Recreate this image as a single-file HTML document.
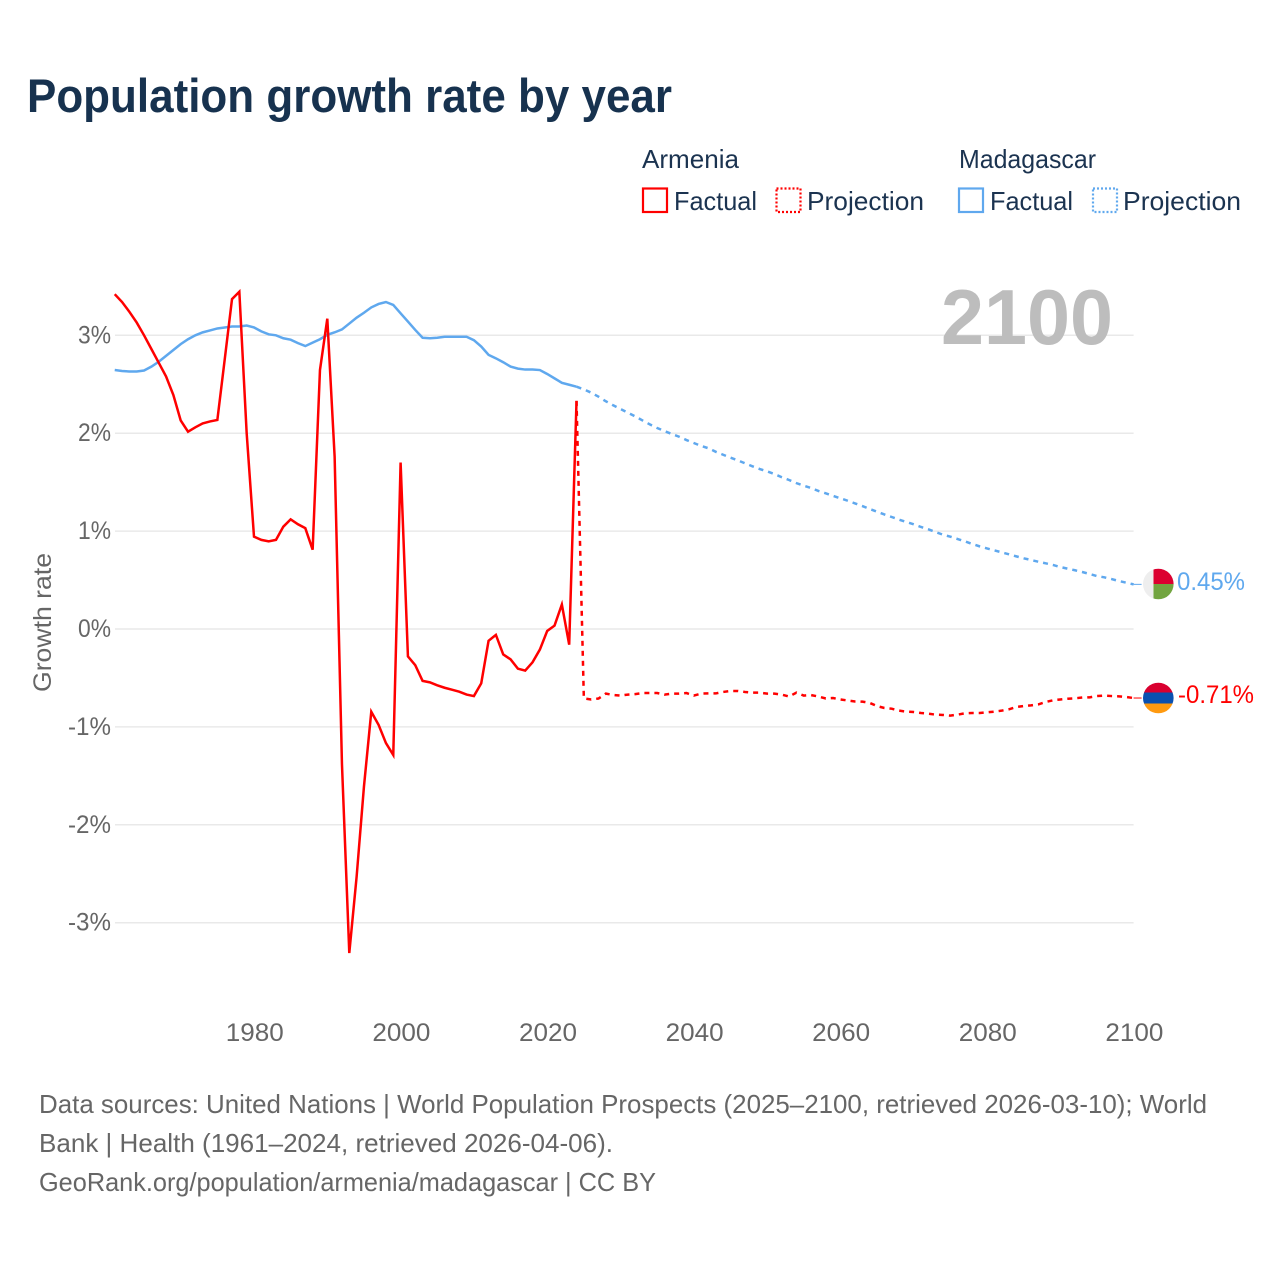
<!DOCTYPE html>
<html lang="en">
<head>
<meta charset="utf-8">
<title>Population growth rate by year</title>
<style>
html,body{margin:0;padding:0;background:#fff;}
svg{display:block;font-family:"Liberation Sans",sans-serif;}
</style>
</head>
<body>
<svg id="chart" xmlns="http://www.w3.org/2000/svg" width="1280" height="1280" viewBox="0 0 1280 1280">
  <rect x="0" y="0" width="1280" height="1280" fill="#ffffff"/>
  <text x="27" y="112" font-size="47" font-weight="700" fill="#17324f" textLength="645" lengthAdjust="spacingAndGlyphs">Population growth rate by year</text>

  <g font-size="26" fill="#1b3350">
    <text x="642" y="168" textLength="97" lengthAdjust="spacingAndGlyphs">Armenia</text>
    <g>
      <rect x="643" y="188.5" width="24" height="23.5" fill="none" stroke="#ff0000" stroke-width="2.2"/>
      <text x="674" y="210" textLength="83" lengthAdjust="spacingAndGlyphs">Factual</text>
    </g>
    <g>
      <rect x="776.500" y="188.5" width="24" height="23.5" fill="none" stroke="#ff0000" stroke-width="2.2" stroke-dasharray="2 2"/>
      <text x="807" y="210" textLength="117" lengthAdjust="spacingAndGlyphs">Projection</text>
    </g>
    <text x="959" y="168" textLength="137" lengthAdjust="spacingAndGlyphs">Madagascar</text>
    <g>
      <rect x="959" y="188.5" width="24" height="23.5" fill="none" stroke="#5fa8ee" stroke-width="2.2"/>
      <text x="990" y="210" textLength="83" lengthAdjust="spacingAndGlyphs">Factual</text>
    </g>
    <g>
      <rect x="1093" y="188.5" width="24" height="23.5" fill="none" stroke="#5fa8ee" stroke-width="2.2" stroke-dasharray="2 2"/>
      <text x="1123" y="210" textLength="118" lengthAdjust="spacingAndGlyphs">Projection</text>
    </g>
  </g>

  <g id="grid"></g>
  <text x="941" y="344" font-size="78" font-weight="700" fill="#bdbdbd" textLength="172" lengthAdjust="spacingAndGlyphs">2100</text>
  <g id="yaxis"></g>
  <g id="xaxis"></g>
  <text transform="translate(51,622.5) rotate(-90)" text-anchor="middle" font-size="25" fill="#666666" textLength="139" lengthAdjust="spacingAndGlyphs">Growth rate</text>
  <g id="series"></g>

  <g>
    <clipPath id="clip-mg"><circle cx="1158.300" cy="584" r="15.300"/></clipPath>
    <g clip-path="url(#clip-mg)">
      <rect x="1143" y="568" width="10.500" height="32" fill="#eeeeee"/>
      <rect x="1153.500" y="568" width="21" height="16" fill="#dc0030"/>
      <rect x="1153.500" y="584" width="21" height="16" fill="#72a540"/>
    </g>
  </g>
  <g>
    <clipPath id="clip-am"><circle cx="1158.300" cy="698" r="15.300"/></clipPath>
    <g clip-path="url(#clip-am)">
      <rect x="1143" y="682" width="31" height="10.500" fill="#d90030"/>
      <rect x="1143" y="692.500" width="31" height="11" fill="#0a50b0"/>
      <rect x="1143" y="703.500" width="31" height="11" fill="#ff9a10"/>
    </g>
  </g>
  <text x="1177" y="590" font-size="25" fill="#5fa8ee" textLength="68" lengthAdjust="spacingAndGlyphs">0.45%</text>
  <text x="1178" y="703" font-size="25" fill="#ff0000" textLength="76" lengthAdjust="spacingAndGlyphs">-0.71%</text>

  <g font-size="26" fill="#666666">
    <text x="39" y="1113" textLength="1168" lengthAdjust="spacingAndGlyphs">Data sources: United Nations | World Population Prospects (2025–2100, retrieved 2026-03-10); World</text>
    <text x="39" y="1152" textLength="574" lengthAdjust="spacingAndGlyphs">Bank | Health (1961–2024, retrieved 2026-04-06).</text>
    <text x="39" y="1191" textLength="617" lengthAdjust="spacingAndGlyphs">GeoRank.org/population/armenia/madagascar | CC BY</text>
  </g>
</svg>
<script>
const xTickLabels = [1980, 2000, 2020, 2040, 2060, 2080, 2100];
const yTickLabels = [3, 2, 1, 0, -1, -2, -3];
const factualStartYear = 1961;
const projectionStartYear = 2024;

// Growth rate in %, 1961–2024
const armeniaFactual = [
  3.42,3.34,3.24,3.13,3.0,2.86,2.72,2.58,2.39,2.13,
  2.015,2.06,2.10,2.12,2.135,2.75,3.37,3.445,2.0,0.943,
  0.91,0.895,0.91,1.045,1.12,1.07,1.03,0.81,2.645,3.17,
  1.76,-1.38,-3.31,-2.53,-1.61,-0.845,-0.98,-1.165,-1.287,1.7,
  -0.28,-0.37,-0.53,-0.545,-0.575,-0.60,-0.62,-0.64,-0.67,-0.685,
  -0.555,-0.12,-0.06,-0.26,-0.31,-0.405,-0.425,-0.34,-0.21,-0.02,
  0.035,0.25,-0.16,2.33
];
// Growth rate in %, 2024–2100
const armeniaProjection = [
  2.33,-0.708,-0.72,-0.71,-0.66,-0.674,-0.68,-0.67,-0.665,-0.654,
  -0.654,-0.654,-0.67,-0.66,-0.66,-0.654,-0.68,-0.66,-0.658,-0.658,
  -0.643,-0.633,-0.633,-0.643,-0.65,-0.65,-0.66,-0.66,-0.67,-0.69,
  -0.65,-0.68,-0.675,-0.69,-0.71,-0.705,-0.72,-0.73,-0.74,-0.742,
  -0.755,-0.787,-0.807,-0.814,-0.834,-0.844,-0.848,-0.858,-0.865,-0.875,
  -0.878,-0.885,-0.875,-0.861,-0.858,-0.858,-0.851,-0.844,-0.834,-0.82,
  -0.797,-0.787,-0.78,-0.77,-0.746,-0.728,-0.72,-0.712,-0.708,-0.70,
  -0.698,-0.685,-0.68,-0.685,-0.688,-0.695,-0.705
];
// Growth rate in %, 1961–2024
const madagascarFactual = [
  2.645,2.635,2.63,2.63,2.64,2.68,2.73,2.79,2.85,2.91,
  2.96,3.0,3.03,3.05,3.07,3.08,3.09,3.09,3.10,3.08,
  3.04,3.01,3.0,2.97,2.955,2.92,2.89,2.925,2.96,3.005,
  3.03,3.06,3.12,3.18,3.23,3.285,3.32,3.34,3.31,3.225,
  3.14,3.055,2.975,2.97,2.975,2.985,2.985,2.985,2.985,2.95,
  2.885,2.80,2.765,2.725,2.68,2.66,2.65,2.65,2.645,2.605,
  2.56,2.515,2.495,2.475
];
// Growth rate in %, 2024–2100
const madagascarProjection = [
  2.475,2.448,2.414,2.373,2.326,2.285,2.247,2.21,2.172,2.13,
  2.09,2.053,2.022,1.992,1.964,1.93,1.90,1.87,1.846,1.81,
  1.78,1.75,1.723,1.692,1.662,1.634,1.61,1.583,1.55,1.522,
  1.49,1.464,1.44,1.41,1.386,1.36,1.335,1.31,1.283,1.256,
  1.226,1.198,1.17,1.144,1.117,1.093,1.07,1.042,1.018,0.99,
  0.963,0.943,0.919,0.895,0.868,0.844,0.823,0.803,0.783,0.763,
  0.742,0.722,0.705,0.687,0.671,0.654,0.633,0.616,0.60,0.582,
  0.562,0.541,0.528,0.51,0.49,0.473,0.456
];

const NS = 'http://www.w3.org/2000/svg';
function xScale(year) { return 254 + (year - 1980) * 7.33; }
function yScale(value) { return 629 - value * 97.9; }
function make(tag) { return document.createElementNS(NS, tag); }
function pathFrom(values, startYear) {
  return values.map(function (v, i) {
    return (i ? 'L' : 'M') + xScale(startYear + i).toFixed(2) + ' ' + yScale(v).toFixed(2);
  }).join(' ');
}

const gridGroup = document.getElementById('grid');
const yAxisGroup = document.getElementById('yaxis');
yTickLabels.forEach(function (tick) {
  const line = make('line');
  
  
  line.setAttribute('x1', 115);
  line.setAttribute('x2', xScale(2100));
  line.setAttribute('y1', yScale(tick));
  line.setAttribute('y2', yScale(tick));
  line.setAttribute('stroke', '#e9e9e9');
  line.setAttribute('stroke-width', 1.5);
  gridGroup.appendChild(line);

  const label = make('text');
  
  
  label.setAttribute('x', 111);
  label.setAttribute('y', yScale(tick) + 8);
  label.setAttribute('text-anchor', 'end');
  label.setAttribute('font-size', 25);
  label.setAttribute('fill', '#666666');
  label.setAttribute('textLength', tick < 0 ? 43 : 33);
  label.setAttribute('lengthAdjust', 'spacingAndGlyphs');
  label.textContent = tick + '%';
  yAxisGroup.appendChild(label);
});

const xAxisGroup = document.getElementById('xaxis');
xTickLabels.forEach(function (tick) {
  const label = make('text');
  
  
  label.setAttribute('x', xScale(tick) + 0.8);
  label.setAttribute('y', 1041);
  label.setAttribute('text-anchor', 'middle');
  label.setAttribute('font-size', 25);
  label.setAttribute('fill', '#666666');
  label.setAttribute('textLength', 58);
  label.setAttribute('lengthAdjust', 'spacingAndGlyphs');
  label.textContent = tick;
  xAxisGroup.appendChild(label);
});

const seriesGroup = document.getElementById('series');

const madagascarFactualLine = make('path');


madagascarFactualLine.setAttribute('d', pathFrom(madagascarFactual, factualStartYear));
madagascarFactualLine.setAttribute('fill', 'none');
madagascarFactualLine.setAttribute('stroke', '#5fa8ee');
madagascarFactualLine.setAttribute('stroke-width', 2.5);
seriesGroup.appendChild(madagascarFactualLine);

const madagascarProjectionLine = make('path');


madagascarProjectionLine.setAttribute('d', pathFrom(madagascarProjection, projectionStartYear));
madagascarProjectionLine.setAttribute('fill', 'none');
madagascarProjectionLine.setAttribute('stroke', '#5fa8ee');
madagascarProjectionLine.setAttribute('stroke-width', 2.5);
madagascarProjectionLine.setAttribute('stroke-dasharray', '5 5');
seriesGroup.appendChild(madagascarProjectionLine);

const armeniaProjectionLine = make('path');


armeniaProjectionLine.setAttribute('d', pathFrom(armeniaProjection, projectionStartYear));
armeniaProjectionLine.setAttribute('fill', 'none');
armeniaProjectionLine.setAttribute('stroke', '#ff0000');
armeniaProjectionLine.setAttribute('stroke-width', 2.5);
armeniaProjectionLine.setAttribute('stroke-dasharray', '5 5');
seriesGroup.appendChild(armeniaProjectionLine);

const armeniaFactualLine = make('path');


armeniaFactualLine.setAttribute('d', pathFrom(armeniaFactual, factualStartYear));
armeniaFactualLine.setAttribute('fill', 'none');
armeniaFactualLine.setAttribute('stroke', '#ff0000');
armeniaFactualLine.setAttribute('stroke-width', 2.5);
seriesGroup.appendChild(armeniaFactualLine);

const madagascarLeader = make('line');


madagascarLeader.setAttribute('x1', xScale(2100));
madagascarLeader.setAttribute('x2', xScale(2100) + 8);
madagascarLeader.setAttribute('y1', yScale(madagascarProjection[madagascarProjection.length - 1]));
madagascarLeader.setAttribute('y2', yScale(madagascarProjection[madagascarProjection.length - 1]));
madagascarLeader.setAttribute('stroke', '#5fa8ee');
madagascarLeader.setAttribute('stroke-width', 1);
seriesGroup.appendChild(madagascarLeader);

const armeniaLeader = make('line');


armeniaLeader.setAttribute('x1', xScale(2100));
armeniaLeader.setAttribute('x2', xScale(2100) + 8);
armeniaLeader.setAttribute('y1', yScale(armeniaProjection[armeniaProjection.length - 1]));
armeniaLeader.setAttribute('y2', yScale(armeniaProjection[armeniaProjection.length - 1]));
armeniaLeader.setAttribute('stroke', '#ff0000');
armeniaLeader.setAttribute('stroke-width', 1);
seriesGroup.appendChild(armeniaLeader);
</script>
</body>
</html>
